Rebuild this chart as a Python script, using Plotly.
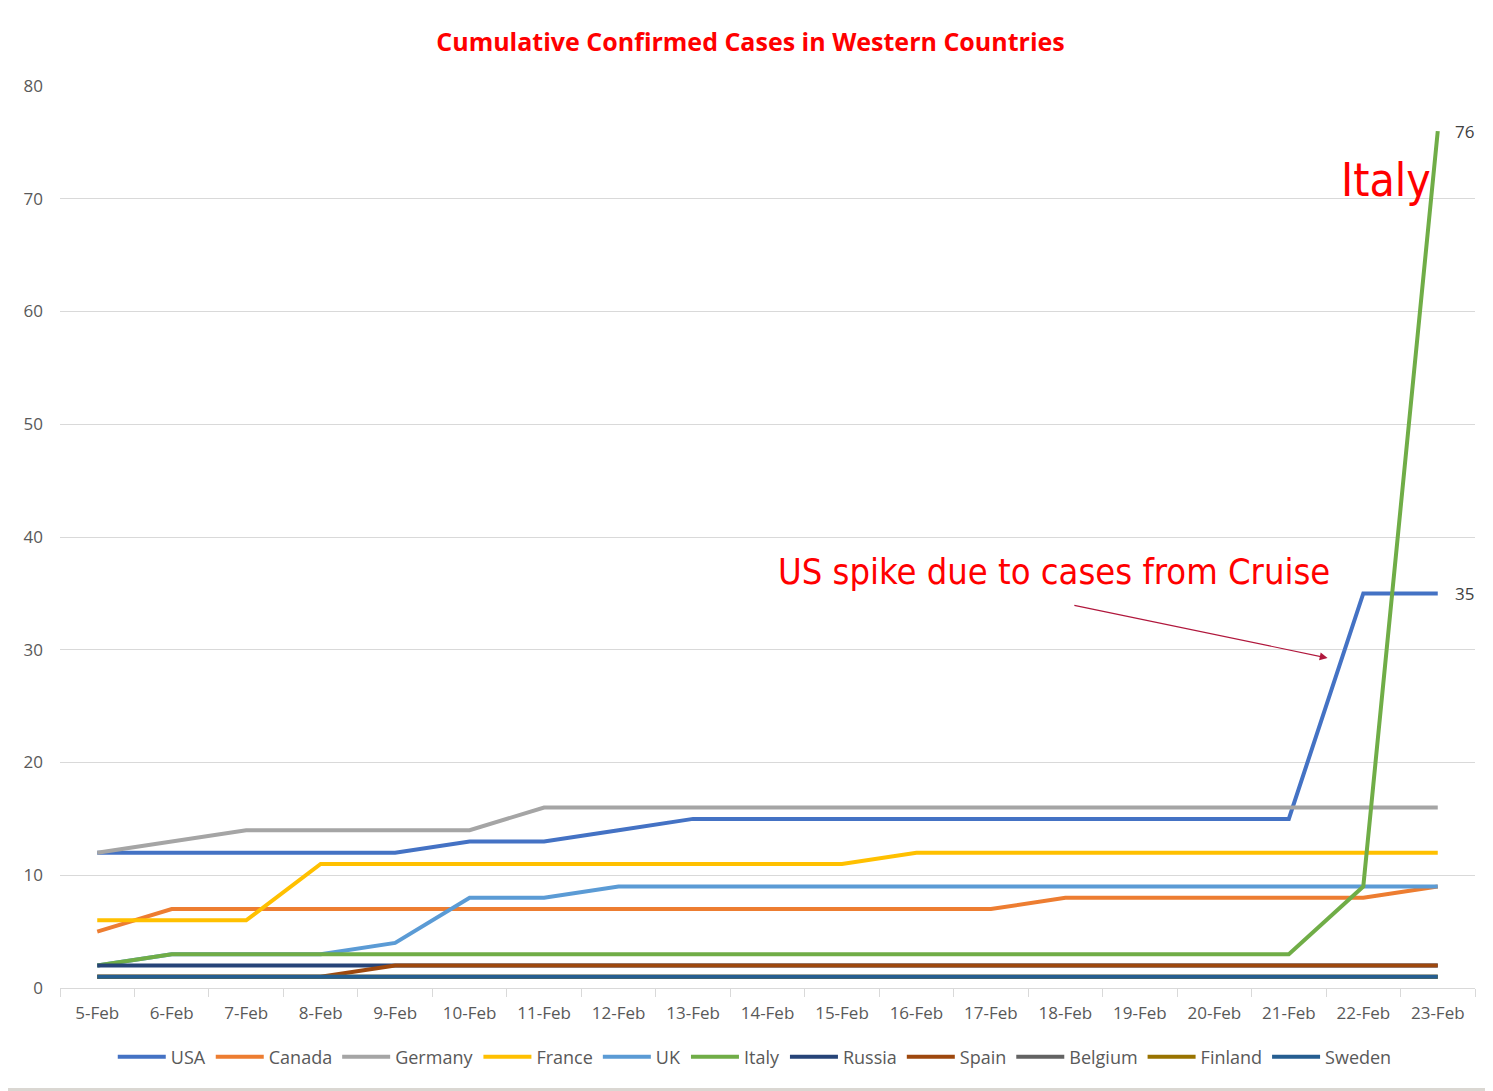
import plotly.graph_objects as go

dates = ["5-Feb", "6-Feb", "7-Feb", "8-Feb", "9-Feb", "10-Feb", "11-Feb", "12-Feb", "13-Feb",
         "14-Feb", "15-Feb", "16-Feb", "17-Feb", "18-Feb", "19-Feb", "20-Feb", "21-Feb",
         "22-Feb", "23-Feb"]

usa = [12, 12, 12, 12, 12, 13, 13, 14, 15, 15, 15, 15, 15, 15, 15, 15, 15, 35, 35]
canada = [5, 7, 7, 7, 7, 7, 7, 7, 7, 7, 7, 7, 7, 8, 8, 8, 8, 8, 9]
germany = [12, 13, 14, 14, 14, 14, 16, 16, 16, 16, 16, 16, 16, 16, 16, 16, 16, 16, 16]
france = [6, 6, 6, 11, 11, 11, 11, 11, 11, 11, 11, 12, 12, 12, 12, 12, 12, 12, 12]
uk = [2, 3, 3, 3, 4, 8, 8, 9, 9, 9, 9, 9, 9, 9, 9, 9, 9, 9, 9]
italy = [2, 3, 3, 3, 3, 3, 3, 3, 3, 3, 3, 3, 3, 3, 3, 3, 3, 9, 76]
russia = [2, 2, 2, 2, 2, 2, 2, 2, 2, 2, 2, 2, 2, 2, 2, 2, 2, 2, 2]
spain = [1, 1, 1, 1, 2, 2, 2, 2, 2, 2, 2, 2, 2, 2, 2, 2, 2, 2, 2]
belgium = [1, 1, 1, 1, 1, 1, 1, 1, 1, 1, 1, 1, 1, 1, 1, 1, 1, 1, 1]
finland = [1, 1, 1, 1, 1, 1, 1, 1, 1, 1, 1, 1, 1, 1, 1, 1, 1, 1, 1]
sweden = [1, 1, 1, 1, 1, 1, 1, 1, 1, 1, 1, 1, 1, 1, 1, 1, 1, 1, 1]

series = [
    ("USA", usa, "#4472C4"),
    ("Canada", canada, "#ED7D31"),
    ("Germany", germany, "#A5A5A5"),
    ("France", france, "#FFC000"),
    ("UK", uk, "#5B9BD5"),
    ("Italy", italy, "#70AD47"),
    ("Russia", russia, "#264478"),
    ("Spain", spain, "#9E480E"),
    ("Belgium", belgium, "#636363"),
    ("Finland", finland, "#997300"),
    ("Sweden", sweden, "#255E91"),
]

tickfam = "Open Sans, sans-serif"
annfam = "DejaVu Sans Condensed, DejaVu Sans, sans-serif"

# page has an 8px body margin: figure is placed at (8, 8)
W, H = 1485, 1083
ML, MT, MR, MB = 52, 78, 18, 103
PW, PH = W - ML - MR, H - MT - MB

fig = go.Figure()
for name, vals, col in series:
    fig.add_trace(go.Scatter(x=dates, y=vals, name=name, mode="lines",
                             line=dict(color=col, width=4)))

# end labels
for vals in (italy, usa):
    fig.add_annotation(x=dates[-1], y=vals[-1], text=str(vals[-1]), showarrow=False,
                       xanchor="left", xshift=15, font=dict(size=17, color="#404040", family=tickfam))

fig.add_annotation(x=17.3, y=71.7, xref="x", yref="y", text="Italy", showarrow=False,
                   font=dict(size=46, color="#FF0000", family=annfam))
fig.add_annotation(x=12.85, y=36.9, xref="x", yref="y", text="US spike due to cases from Cruise",
                   showarrow=False, font=dict(size=36, color="#FF0000", family=annfam))
fig.add_annotation(x=16.52, y=29.27, ax=13.1, ay=33.97, xref="x", yref="y", axref="x", ayref="y",
                   text="", showarrow=True, arrowhead=2, arrowsize=1.3, arrowwidth=1.2,
                   arrowcolor="#B0173C")

# bottom gray frame strip
fig.add_shape(type="rect", xref="paper", yref="paper", x0=-0.1, x1=1.1,
              y0=-(H - MT - PH + 5) / PH, y1=-(1080 - MT - PH) / PH,
              fillcolor="#DAD7D2", line=dict(width=0), layer="below")

fig.update_layout(
    width=W, height=H,
    margin=dict(l=ML, r=MR, t=MT, b=MB),
    paper_bgcolor="white", plot_bgcolor="white",
    title=dict(text="<b>Cumulative Confirmed Cases in Western Countries</b>", x=0.5, xanchor="center",
               y=1 - 34 / H, yanchor="middle",
               font=dict(size=25, color="#FF0000", family=tickfam)),
    legend=dict(orientation="h", x=0.491, xanchor="center", y=-(1049 - MT - PH) / PH, yanchor="middle",
                font=dict(size=18, color="#595959", family=tickfam), bgcolor="rgba(0,0,0,0)",
                itemwidth=48, tracegroupgap=0),
    showlegend=True,
)
fig.update_xaxes(type="category", range=[-0.5, 18.5], showgrid=False, showline=True,
                 linecolor="#D9D9D9", linewidth=1, ticks="outside", tickson="boundaries",
                 ticklen=8, tickcolor="#D9D9D9", ticklabelstandoff=10,
                 tickfont=dict(size=17, color="#595959", family=tickfam))
fig.update_yaxes(range=[0, 80], dtick=10, showgrid=True, gridcolor="#D9D9D9", gridwidth=1,
                 zeroline=False, showline=False, ticks="", ticklabelstandoff=16,
                 tickfont=dict(size=17, color="#595959", family=tickfam))

fig.write_html("out.html")
